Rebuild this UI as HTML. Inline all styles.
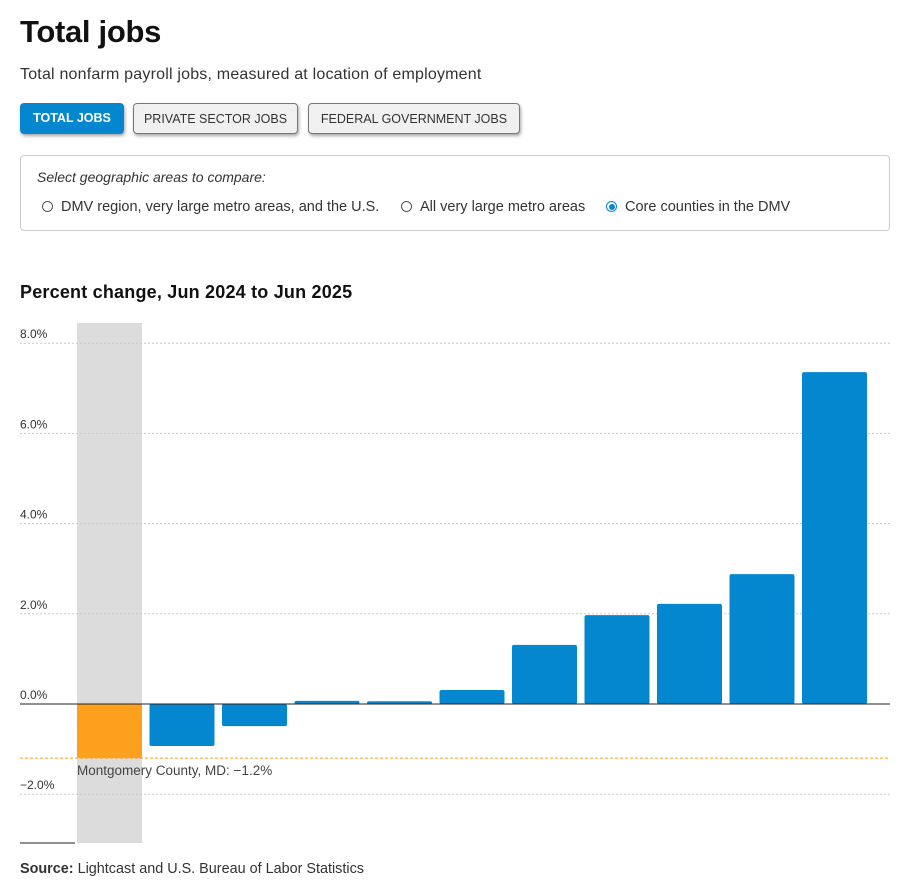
<!DOCTYPE html>
<html><head><meta charset="utf-8"><style>
body{margin:0;background:#fff;font-family:"Liberation Sans",sans-serif;color:#222;width:912px;height:894px;position:relative;overflow:hidden}
.abs{position:absolute}
h1{position:absolute;left:20px;top:14px;margin:0;font-size:31px;font-weight:bold;letter-spacing:-0.3px;color:#111}
.sub{left:20px;top:66px;font-size:16px;letter-spacing:0.2px;color:#333}
.btn{top:103px;height:31px;line-height:31px;font-size:12.5px;border-radius:4px;box-sizing:border-box;text-align:center;box-shadow:1px 2px 3px rgba(0,0,0,.35)}
.b1{left:20px;width:104px;background:#0587d0;color:#fff;font-weight:bold}
.b2{left:133px;width:165px;background:#f0f0f0;border:1px solid #777;color:#333}
.b3{left:308px;width:212px;background:#f0f0f0;border:1px solid #777;color:#333}
.box{left:20px;top:155px;width:870px;height:76px;border:1px solid #ccc;border-radius:4px;box-sizing:border-box}
.rad{top:199px;font-size:14.5px;color:#333}
.rc{display:inline-block;width:11px;height:11px;border:1px solid #555;border-radius:50%;vertical-align:-1px;margin-right:8px;box-sizing:border-box;position:relative}
.rc.on{border-color:#0587d0}
.rc.on::after{content:"";position:absolute;left:1.5px;top:1.5px;width:6px;height:6px;border-radius:50%;background:#0587d0}
</style></head><body>
<h1>Total jobs</h1>
<div class="abs sub">Total nonfarm payroll jobs, measured at location of employment</div>
<div class="abs btn b1">TOTAL JOBS</div>
<div class="abs btn b2">PRIVATE SECTOR JOBS</div>
<div class="abs btn b3">FEDERAL GOVERNMENT JOBS</div>
<div class="abs box"></div>
<div class="abs" style="left:37px;top:169px;font-size:14px;font-style:italic;color:#333">Select geographic areas to compare:</div>
<div class="abs rad" style="left:42px"><span class="rc"></span>DMV region, very large metro areas, and the U.S.</div>
<div class="abs rad" style="left:401px"><span class="rc"></span>All very large metro areas</div>
<div class="abs rad" style="left:606px"><span class="rc on"></span>Core counties in the DMV</div>
<div class="abs" style="left:20px;top:282px;font-size:18px;font-weight:bold;letter-spacing:0.2px;color:#111">Percent change, Jun 2024 to Jun 2025</div>
<svg class="abs" style="left:0;top:0" width="912" height="894" id="chart"></svg>
<div class="abs" style="left:20px;top:861px;font-size:14.4px;color:#333"><b>Source:</b> Lightcast and U.S. Bureau of Labor Statistics</div>
<script>
const categories=["Montgomery County, MD","County 2","County 3","County 4","County 5","County 6","County 7","County 8","County 9","County 10","County 11"];
const values=[-1.2,-0.93,-0.49,0.07,0.06,0.31,1.31,1.97,2.22,2.88,7.36];
const ticks=[8,6,4,2,0,-2];
const tickLabels=["8.0%","6.0%","4.0%","2.0%","0.0%","\u22122.0%"];
const highlightIndex=0;
const highlightLabel="Montgomery County, MD: \u22121.2%";
const NS="http://www.w3.org/2000/svg";
const svg=document.getElementById('chart');
const y=v=>704-v*45.1;
const x0=77,step=72.5,bw=65;
const x=i=>x0+i*step;
function mk(t,a){const e=document.createElementNS(NS,t);for(const k in a)e.setAttribute(k,a[k]);svg.appendChild(e);return e;}
let r=mk('rect',{x:x(highlightIndex),y:323,width:bw,height:520,fill:'#dcdcdc'});


ticks.forEach((t,i)=>{
 if(t!==0){let l=mk('line',{x1:20,x2:890,y1:y(t),y2:y(t),stroke:'#c8c8c8','stroke-dasharray':'2,2'});
 
 }
 let tx=mk('text',{x:20,y:y(t)-5,'font-size':12,fill:'#333','font-family':'Liberation Sans, sans-serif'});
 tx.textContent=tickLabels[i];
 
 
});
values.forEach((v,i)=>{
 const top=Math.min(y(v),y(0)),h=Math.max(Math.abs(y(v)-y(0)),1.5);
 let b=mk('rect',{x:x(i),y:top,width:bw,height:h,rx:2,fill:i===highlightIndex?'#fca01e':'#0587d0'});
 
 
});
let z=mk('line',{x1:20,x2:890,y1:y(0),y2:y(0),stroke:'#222','stroke-width':1});


let hl=mk('line',{x1:20,x2:890,y1:y(values[highlightIndex]),y2:y(values[highlightIndex]),stroke:'#fca01e','stroke-dasharray':'3,2'});


let ht=mk('text',{x:x(highlightIndex),y:y(values[highlightIndex])+17,'font-size':13.5,fill:'#444','font-family':'Liberation Sans, sans-serif'});
ht.textContent=highlightLabel;


let bl=mk('line',{x1:20,x2:75,y1:843,y2:843,stroke:'#222'});


</script>
</body></html>
